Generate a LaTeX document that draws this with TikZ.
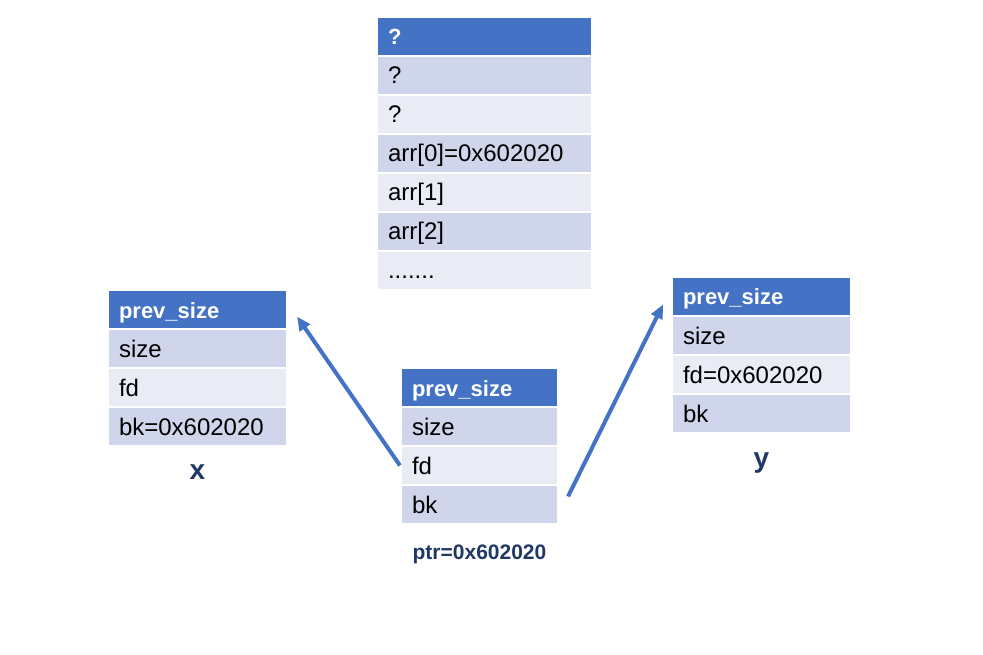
\documentclass[tikz,border=0pt]{standalone}
\usepackage{fontspec}
\setmainfont{Liberation Sans}
\usetikzlibrary{arrows.meta,positioning}
\definecolor{chunkBlue}{RGB}{68, 114, 196}
\definecolor{chunkDark}{RGB}{207, 213, 234}
\definecolor{chunkLight}{RGB}{233, 235, 245}
\definecolor{chunkNavy}{RGB}{32, 56, 100}

\begin{document}
\begin{tikzpicture}[
  x=1pt, y=-1pt,
  cell/.style={
    minimum height=37pt,
    inner xsep=10pt,
    inner ysep=0pt,
    outer sep=0pt,
    text height=20pt,
    text depth=3pt,
    align=left,
    font=\fontsize{24}{27}\selectfont
  },
  head/.style={cell,fill=chunkBlue,text=white,font=\fontsize{22}{26}\selectfont\bfseries},
  dark/.style={cell,fill=chunkDark},
  light/.style={cell,fill=chunkLight},
  chunkname/.style={inner sep=0pt,text height=15pt,text depth=0pt,
    text=chunkNavy,font=\fontsize{28}{30}\selectfont\bfseries},
  ptrname/.style={inner sep=0pt,text height=15pt,text depth=0pt,
    text=chunkNavy,font=\fontsize{21}{24}\selectfont\bfseries},
  arrow/.style={-{Triangle[length=14pt,width=12pt]},line width=4pt,chunkBlue}
]
  \useasboundingbox (0,0) rectangle (983,655);

  % global array
  \node[head,text width=193pt,anchor=north west] (arr0) at (378,18) {?};
  \foreach \txt/\i/\j/\sty in {?/1/0/dark,?/2/1/light,arr[0]=0x602020/3/2/dark,
    arr[1]/4/3/light,arr[2]/5/4/dark,{.......}/6/5/light}
    \node[\sty,text width=193pt,below=2pt of arr\j] (arr\i) {\txt};

  % chunk x
  \node[head,text width=157pt,anchor=north west] (xhead) at (109,291) {prev\_size};
  \node[dark,text width=157pt,below=2pt of xhead] (xsize) {size};
  \node[light,text width=157pt,below=2pt of xsize] (xfd) {fd};
  \node[dark,text width=157pt,below=2pt of xfd] (xbk) {bk=0x602020};
  \node[chunkname,below=19pt of xbk] (xname) {x};

  % chunk at ptr
  \node[head,text width=135pt,anchor=north west] (phead) at (402,369) {prev\_size};
  \node[dark,text width=135pt,below=2pt of phead] (psize) {size};
  \node[light,text width=135pt,below=2pt of psize] (pfd) {fd};
  \node[dark,text width=135pt,below=2pt of pfd] (pbk) {bk};
  \node[ptrname,below=21pt of pbk] (pname) {ptr=0x602020};

  % chunk y
  \node[head,text width=157pt,anchor=north west] (yhead) at (673,278) {prev\_size};
  \node[dark,text width=157pt,below=2pt of yhead] (ysize) {size};
  \node[light,text width=157pt,below=2pt of ysize] (yfd) {fd=0x602020};
  \node[dark,text width=157pt,below=2pt of yfd] (ybk) {bk};
  \node[chunkname,below=20pt of ybk] (yname) {y};

  \draw[arrow] ([xshift=-2pt]pfd.west) -- ([xshift=11pt,yshift=-7pt]xhead.east);
  \draw[arrow] ([xshift=11pt,yshift=8pt]pbk.east) -- ([xshift=-10pt,yshift=-8pt]yhead.west);
\end{tikzpicture}
\end{document}
